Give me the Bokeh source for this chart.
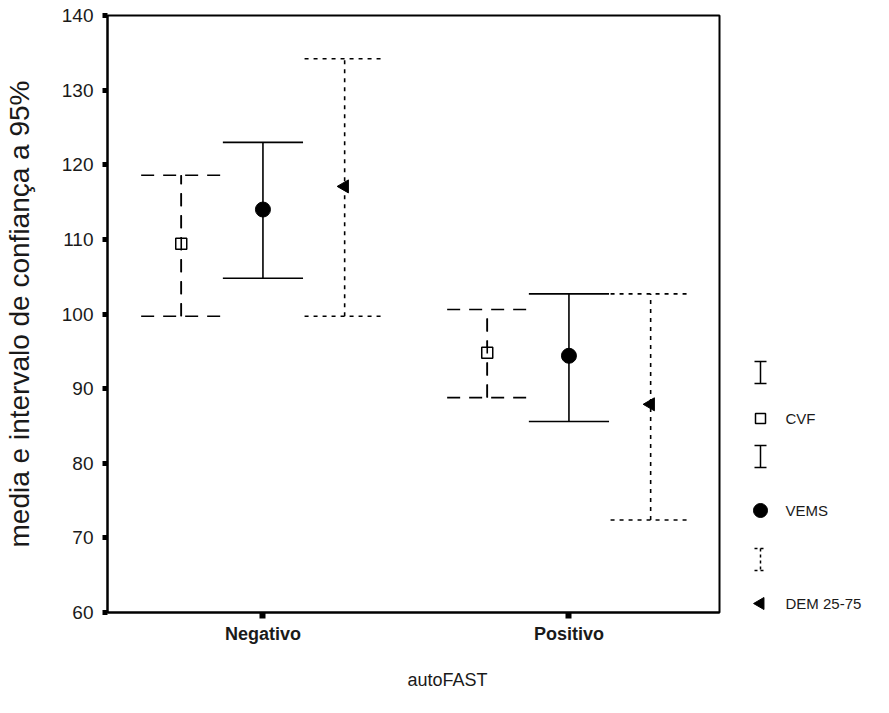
import math
from bokeh.plotting import figure
from bokeh.models import Range1d, FixedTicker, ColumnDataSource, Title
from bokeh.layouts import row
from bokeh.embed import file_html
from bokeh.resources import INLINE
from bokeh.core.properties import value

# ---- data ----
categories = ["Negativo", "Positivo"]
series = ["CVF", "VEMS", "DEM 25-75"]
cvf_mean = [109.4, 94.8]
cvf_lower = [99.7, 88.8]
cvf_upper = [118.6, 100.6]
vems_mean = [114.0, 94.4]
vems_lower = [104.8, 85.6]
vems_upper = [123.0, 102.7]
dem_mean = [117.1, 87.9]
dem_lower = [99.7, 72.4]
dem_upper = [134.2, 102.7]
y_ticks = [60, 70, 80, 90, 100, 110, 120, 130, 140]

FONT = "Liberation Sans"
TXT = "#1a1a1a"

FRAME_L, FRAME_T, FRAME_W, FRAME_H = 105, 15, 614, 597
MAIN_W, MAIN_H = 722, 711

p = figure(width=MAIN_W, height=MAIN_H, output_backend="svg", toolbar_location=None,
           x_range=Range1d(0.492, 2.492), y_range=Range1d(60, 140),
           min_border_left=FRAME_L, min_border_right=MAIN_W - FRAME_L - FRAME_W,
           min_border_top=FRAME_T, min_border_bottom=MAIN_H - FRAME_T - FRAME_H)
p.grid.visible = False
p.outline_line_color = "black"
p.outline_line_width = 2
p.background_fill_color = "white"
p.border_fill_color = "white"

xpos = [i + 1 for i in range(len(categories))]
offsets = {"CVF": -0.267, "VEMS": 0.0, "DEM 25-75": 0.267}
cap = 0.131
styles = {
    "CVF": dict(line_dash="13 9"),
    "VEMS": dict(line_dash="solid"),
    "DEM 25-75": dict(line_dash="4 5"),
}
data = {
    "CVF": (cvf_mean, cvf_lower, cvf_upper),
    "VEMS": (vems_mean, vems_lower, vems_upper),
    "DEM 25-75": (dem_mean, dem_lower, dem_upper),
}

for s in series:
    m, lo, hi = data[s]
    xs = [x + offsets[s] for x in xpos]
    src = ColumnDataSource(dict(x=xs, m=m, lo=lo, hi=hi,
                                x0=[x - cap for x in xs], x1=[x + cap for x in xs]))
    kw = dict(line_color="black", line_width=1.6, **styles[s])
    p.segment(x0="x", y0="lo", x1="x", y1="hi", source=src, **kw)
    p.segment(x0="x0", y0="lo", x1="x1", y1="lo", source=src, **kw)
    p.segment(x0="x0", y0="hi", x1="x1", y1="hi", source=src, **kw)
    if s == "CVF":
        p.scatter("x", "m", source=src, marker="square", size=11, fill_color="white",
                  line_color="black", line_width=1.5)
        p.segment(x0="x", y0="lo", x1="x", y1="hi", source=src, line_color="black",
                  line_width=1.6, line_dash="13 9")
    elif s == "VEMS":
        p.scatter("x", "m", source=src, marker="circle", size=15, fill_color="black",
                  line_color="black")
    else:
        p.scatter("x", "m", source=src, marker="triangle", size=13, angle=math.pi / 2,
                  fill_color="black", line_color="black")

# axes
p.yaxis.ticker = FixedTicker(ticks=y_ticks)
p.yaxis.minor_tick_line_color = None
p.yaxis.major_tick_in = 0
p.yaxis.major_tick_out = 5
p.yaxis.major_tick_line_width = 5
p.yaxis.axis_line_width = 2
p.yaxis.major_label_standoff = 9
p.yaxis.major_label_text_font = FONT
p.yaxis.major_label_text_font_size = "19px"
p.yaxis.major_label_text_color = TXT
p.yaxis.axis_label = "media e intervalo de confiança a 95%"
p.yaxis.axis_label_text_font = FONT
p.yaxis.axis_label_text_font_size = "28px"
p.yaxis.axis_label_text_font_style = "normal"
p.yaxis.axis_label_text_color = TXT
p.yaxis.axis_label_standoff = 24

p.xaxis.ticker = FixedTicker(ticks=xpos)
p.xaxis.major_label_overrides = {x: c for x, c in zip(xpos, categories)}
p.xaxis.minor_tick_line_color = None
p.xaxis.major_tick_in = 0
p.xaxis.major_tick_out = 6
p.xaxis.major_tick_line_width = 6
p.xaxis.axis_line_width = 2
p.xaxis.major_label_standoff = 5
p.xaxis.major_label_text_font = FONT
p.xaxis.major_label_text_font_size = "18px"
p.xaxis.major_label_text_font_style = "bold"
p.xaxis.major_label_text_color = TXT

# x title: centred on the whole chart (plot + legend), as in the reference
xt = Title(text="autoFAST", align="left", offset=300, standoff=42,
           text_font=FONT, text_font_size="18px", text_font_style="normal",
           text_color=TXT)
p.add_layout(xt, "below")

# ---- legend panel (its frame is aligned with the main frame; coords = page pixels) ----
LG_W = 160
lg = figure(width=LG_W, height=MAIN_H, output_backend="svg", toolbar_location=None,
            x_range=Range1d(0, LG_W), y_range=Range1d(FRAME_T + FRAME_H, FRAME_T),
            min_border_left=0, min_border_right=0,
            min_border_top=FRAME_T, min_border_bottom=MAIN_H - FRAME_T - FRAME_H,
            x_axis_location=None, y_axis_location=None)
lg.grid.visible = False
lg.outline_line_color = None
lg.background_fill_color = "white"
lg.border_fill_color = "white"

legend_labels = ["", "CVF", "", "VEMS", "", "DEM 25-75"]
row_y = [372, 418, 456, 510, 559, 603]
gx = 38
tx = 63
bar_half = 11
bar_cap = 6
bar_dash = ["solid", None, "solid", None, "3 3", None]
for i, lab in enumerate(legend_labels):
    y = row_y[i]
    if bar_dash[i] is not None:
        d = bar_dash[i]
        lg.segment(x0=[gx, gx - bar_cap, gx - bar_cap], y0=[y - bar_half, y - bar_half, y + bar_half],
                   x1=[gx, gx + bar_cap, gx + bar_cap], y1=[y + bar_half, y - bar_half, y + bar_half],
                   line_color="black", line_width=1.5, line_dash=d)
    else:
        if lab == "CVF":
            lg.scatter([gx], [y], marker="square", size=10, fill_color="white",
                       line_color="black", line_width=1.5)
        elif lab == "VEMS":
            lg.scatter([gx], [y], marker="circle", size=14, fill_color="black", line_color="black")
        else:
            lg.scatter([gx], [y], marker="triangle", size=12, angle=math.pi / 2,
                       fill_color="black", line_color="black")
        lg.text([tx], [y], text=[lab], text_font=value(FONT), text_font_size="15px",
                text_color=TXT, text_baseline="middle", text_align="left")

layout = row(p, lg)
open("out.html", "w").write(file_html(layout, INLINE))
